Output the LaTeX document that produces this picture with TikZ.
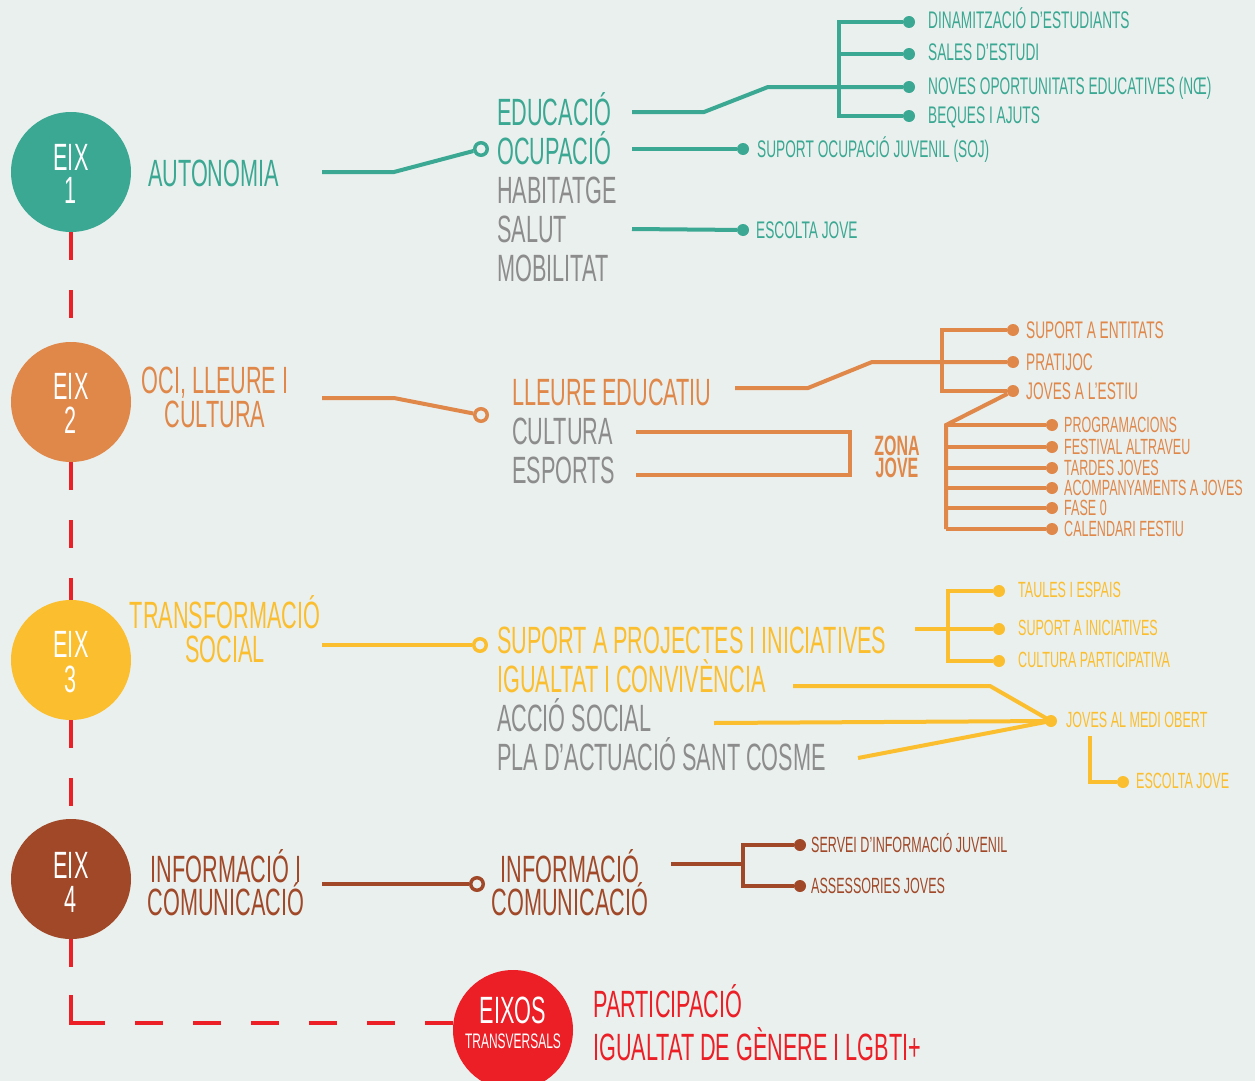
\documentclass[tikz,border=0pt]{standalone}
\usepackage{fontspec}
\setmainfont[FakeStretch=0.57]{Liberation Sans}
\usetikzlibrary{positioning}

\definecolor{bgcol}{RGB}{234,240,238}
\definecolor{eixteal}{RGB}{58,168,146}
\definecolor{eixorange}{RGB}{224,135,74}
\definecolor{eixyellow}{RGB}{251,190,46}
\definecolor{eixbrown}{RGB}{160,72,40}
\definecolor{eixred}{RGB}{236,30,38}
\definecolor{txtgray}{RGB}{140,140,140}

\tikzset{
  eix/.style={circle, minimum size=120pt, inner sep=0pt},
  eixtxt/.style={anchor=base, inner sep=0pt, text=white, font=\fontsize{38}{40}\selectfont},
  big/.style={anchor=base west, inner sep=0pt, font=\fontsize{38}{40}\selectfont},
  bigc/.style={big, anchor=base},
  small/.style={anchor=base west, inner sep=0pt, font=\fontsize{24}{26}\selectfont},
  smaller/.style={small, font=\fontsize{22}{24}\selectfont},
  zona/.style={anchor=base, inner sep=0pt, text=eixorange, font=\fontsize{28}{30}\selectfont\bfseries},
  lnk/.style={line width=4pt},
  dotn/.style={circle, fill, inner sep=0pt, minimum size=12pt},
  ring/.style={circle, draw, line width=3.5pt, fill=bgcol, inner sep=0pt, minimum size=12.5pt},
  spine/.style={eixred, line width=4pt, dash pattern=on 28pt off 30pt},
}

\begin{document}
\begin{tikzpicture}[x=1pt,y=-1pt]
    \useasboundingbox (0,0) rectangle (1255,1081);
    \clip (0,0) rectangle (1255,1081);
    \fill[bgcol] (0,0) rectangle (1255,1081);

    % EIX 1: autonomia
    \node[eix, fill=eixteal] (eix1) at (71,172) {};
    \node[eixtxt] (eix1a) at (71,170) {EIX};
    \node[eixtxt] (eix1b) at (71,203) {1};
    \node[big, text=eixteal] (aut) at (148,186) {AUTONOMIA};
    \coordinate (aut-o) at (322,172);
    \node[ring, draw=eixteal] (r1) at (481,149) {};
    \draw[lnk, eixteal] (aut-o) -- ++(72,0) -- (r1);
    \foreach \t/\c [count=\i] in {EDUCACIÓ/eixteal, OCUPACIÓ/eixteal, HABITATGE/txtgray, SALUT/txtgray, MOBILITAT/txtgray}
        \node[big, text=\c] (a\i) at (497,86+39*\i) {\t};

    \coordinate (tbx) at (839,0);
    \foreach \y/\t [count=\i] in {22/DINAMITZACIÓ D’ESTUDIANTS, 54/SALES D’ESTUDI, 87/{NOVES OPORTUNITATS EDUCATIVES (NŒ)}, 116/BEQUES I AJUTS} {
        \node[dotn, eixteal] (td\i) at (909,\y) {};
        \node[small, text=eixteal] (tl\i) at (928,\y+7) {\t};
    }
    \draw[lnk, eixteal] (td1) -- (td1 -| tbx) -- (td4 -| tbx) -- (td4);
    \draw[lnk, eixteal] (td2) -- (td2 -| tbx);
    \coordinate (a1-o) at (632,112);
    \draw[lnk, eixteal] (a1-o) -- ++(72,0) -- (768,87) -- (td3);

    \coordinate (a2-o) at (632,149);
    \node[dotn, eixteal] (soj) at (743,149) {};
    \node[small, text=eixteal] (sojl) at (757,157) {SUPORT OCUPACIÓ JUVENIL (SOJ)};
    \draw[lnk, eixteal] (a2-o) -- (soj);
    \coordinate (a4-o) at (632,229);
    \node[dotn, eixteal] (esc1) at (743,230) {};
    \node[small, text=eixteal] (esc1l) at (756,238) {ESCOLTA JOVE};
    \draw[lnk, eixteal] (a4-o) -- (esc1);

    % EIX 2: oci, lleure i cultura
    \node[eix, fill=eixorange] (eix2) at (71,402) {};
    \node[eixtxt] (eix2a) at (71,399) {EIX};
    \node[eixtxt] (eix2b) at (71,433) {2};
    \node[bigc, text=eixorange] (oci1) at (215,393) {OCI, LLEURE I};
    \node[bigc, text=eixorange] (oci2) at (215,427) {CULTURA};
    \coordinate (oci-o) at (322,398);
    \node[ring, draw=eixorange] (r2) at (481,415) {};
    \draw[lnk, eixorange] (oci-o) -- ++(72,0) -- (r2);
    \foreach \t/\c [count=\i] in {LLEURE EDUCATIU/eixorange, CULTURA/txtgray, ESPORTS/txtgray}
        \node[big, text=\c] (b\i) at (512,366+39*\i) {\t};

    \coordinate (pbx) at (942,0);
    \foreach \y/\t [count=\i] in {330/SUPORT A ENTITATS, 362/PRATIJOC, 391/JOVES A L’ESTIU} {
        \node[dotn, eixorange] (pd\i) at (1013,\y) {};
        \node[small, text=eixorange] (pl\i) at (1026,\y+8) {\t};
    }
    \draw[lnk, eixorange] (pd1) -- (pd1 -| pbx) -- (pd3 -| pbx) -- (pd3);
    \coordinate (b1-o) at (735,388);
    \draw[lnk, eixorange] (b1-o) -- ++(73,0) -- (872,362) -- (pd2);

    \coordinate (zbx) at (946,0);
    \foreach \y/\t [count=\i] in {425/PROGRAMACIONS, 447/FESTIVAL ALTRAVEU, 468/TARDES JOVES, 488/ACOMPANYAMENTS A JOVES, 508/FASE 0, 529/CALENDARI FESTIU} {
        \node[dotn, eixorange] (zd\i) at (1052,\y) {};
        \node[smaller, text=eixorange] (zl\i) at (1064,\y+7) {\t};
        \draw[lnk, eixorange] (zd\i) -- (zd\i -| zbx);
    }
    \draw[lnk, eixorange] (pd3) -- (zd1 -| zbx) -- (zd6 -| zbx);

    \coordinate (b2-o) at (636,432);
    \coordinate (b3-o) at (636,475);
    \draw[lnk, eixorange] (b2-o) -- ++(214,0) |- (b3-o);
    \node[zona] (zona1) at (897,455) {ZONA};
    \node[zona] (zona2) at (897,477) {JOVE};

    % EIX 3: transformacio social
    \node[eix, fill=eixyellow] (eix3) at (71,660) {};
    \node[eixtxt] (eix3a) at (71,657) {EIX};
    \node[eixtxt] (eix3b) at (71,692) {3};
    \node[bigc, text=eixyellow] (tra1) at (225,628) {TRANSFORMACIÓ};
    \node[bigc, text=eixyellow] (tra2) at (225,662) {SOCIAL};
    \coordinate (tra-o) at (322,645);
    \node[ring, draw=eixyellow] (r3) at (480,645) {};
    \draw[lnk, eixyellow] (tra-o) -- (r3);
    \foreach \t/\c [count=\i] in {SUPORT A PROJECTES I INICIATIVES/eixyellow, IGUALTAT I CONVIVÈNCIA/eixyellow, ACCIÓ SOCIAL/txtgray, PLA D’ACTUACIÓ SANT COSME/txtgray}
        \node[big, text=\c] (c\i) at (497,614+39*\i) {\t};

    \coordinate (ybx) at (948,0);
    \foreach \y/\t [count=\i] in {591/TAULES I ESPAIS, 629/SUPORT A INICIATIVES, 661/CULTURA PARTICIPATIVA} {
        \node[dotn, eixyellow] (yd\i) at (999,\y) {};
        \node[smaller, text=eixyellow] (yl\i) at (1018,\y+6) {\t};
    }
    \draw[lnk, eixyellow] (yd1) -- (yd1 -| ybx) -- (yd3 -| ybx) -- (yd3);
    \coordinate (c1-o) at (915,629);
    \draw[lnk, eixyellow] (c1-o) -- (yd2);

    \node[dotn, eixyellow] (jm) at (1051,721) {};
    \node[smaller, text=eixyellow] (jml) at (1066,727) {JOVES AL MEDI OBERT};
    \coordinate (c2-o) at (793,686);
    \coordinate (c3-o) at (714,723);
    \coordinate (c4-o) at (858,758);
    \draw[lnk, eixyellow] (c2-o) -- ++(197,0) -- (jm.center);
    \draw[lnk, eixyellow] (c3-o) -- (jm.center);
    \draw[lnk, eixyellow] (c4-o) -- (jm.center);
    \node[dotn, eixyellow] (ej) at (1123,782) {};
    \node[smaller, text=eixyellow] (ejl) at (1136,788) {ESCOLTA JOVE};
    \coordinate (jm-o) at (1090,736);
    \draw[lnk, eixyellow] (jm-o) |- (ej);

    % EIX 4: informacio i comunicacio
    \node[eix, fill=eixbrown] (eix4) at (71,879) {};
    \node[eixtxt] (eix4a) at (71,878) {EIX};
    \node[eixtxt] (eix4b) at (71,912) {4};
    \node[bigc, text=eixbrown] (inf1) at (226,882) {INFORMACIÓ I};
    \node[bigc, text=eixbrown] (inf2) at (226,915) {COMUNICACIÓ};
    \coordinate (inf-o) at (322,884);
    \node[ring, draw=eixbrown] (r4) at (477,884) {};
    \draw[lnk, eixbrown] (inf-o) -- (r4);
    \node[bigc, text=eixbrown] (d1) at (570,882) {INFORMACIÓ};
    \node[bigc, text=eixbrown] (d2) at (570,915) {COMUNICACIÓ};

    \coordinate (sbx) at (743,0);
    \foreach \y/\t [count=\i] in {845/SERVEI D’INFORMACIÓ JUVENIL, 886/ASSESSORIES JOVES} {
        \node[dotn, eixbrown] (sd\i) at (800,\y) {};
        \node[smaller, text=eixbrown] (sl\i) at (811,\y+7) {\t};
    }
    \draw[lnk, eixbrown] (sd1) -- (sd1 -| sbx) -- (sd2 -| sbx) -- (sd2);
    \coordinate (d1-o) at (671,864);
    \draw[lnk, eixbrown] (d1-o) -- (d1-o -| sbx);

    % eixos transversals
    \node[eix, fill=eixred] (eixos) at (513,1030) {};
    \node[eixtxt] (eixosa) at (513,1023) {EIXOS};
    \node[eixtxt, font=\fontsize{21}{23}\selectfont] (eixosb) at (513,1048) {TRANSVERSALS};
    \node[big, text=eixred] (tr1) at (593,1017) {PARTICIPACIÓ};
    \node[big, text=eixred] (tr2) at (593,1060) {IGUALTAT DE GÈNERE I LGBTI+};

    % red dashed spine
    \draw[spine] (eix1) -- (eix2);
    \draw[spine] (eix2) -- (eix3);
    \draw[spine] (eix3) -- (eix4);
    \coordinate (corner) at (71,1023);
    \coordinate (corner-v) at (71,995);
    \coordinate (corner-h) at (99,1023);
    \draw[spine] (eix4) -- (corner-v);
    \draw[lnk, eixred] (corner-v) -- (corner) -- (corner-h);
    \draw[spine] (eixos.west |- corner) -- (corner-h);
\end{tikzpicture}
\end{document}
